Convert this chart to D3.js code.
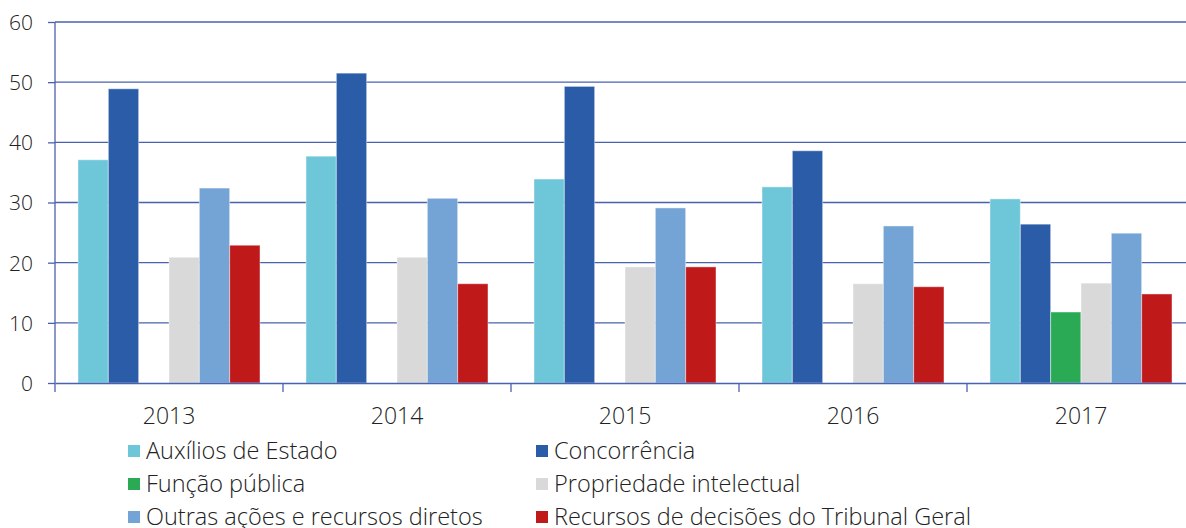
<!DOCTYPE html>
<html>
<head>
<meta charset="utf-8">
<script src="https://cdn.jsdelivr.net/npm/d3@7"></script>
<style>
  body { margin: 0; background: #fff; }
  text { font-family: "Open Sans", sans-serif; font-weight: 300; fill: #222; }
</style>
</head>
<body>
<div id="chart"></div>
<script>
// data
const years = ["2013", "2014", "2015", "2016", "2017"];
const seriesNames = ["Auxílios de Estado", "Concorrência", "Função pública",
    "Propriedade intelectual", "Outras ações e recursos diretos",
    "Recursos de decisões do Tribunal Geral"];
const seriesColors = ["#6ec6d9", "#2b5ca8", "#2aaa55", "#d9d9d9", "#74a3d6", "#c0191a"];
const auxilios = [37.1, 37.7, 33.9, 32.6, 30.6];
const concorrencia = [48.9, 51.5, 49.3, 38.6, 26.4];
const funcaoPublica = [null, null, null, null, 11.8];
const propriedade = [20.9, 20.9, 19.3, 16.5, 16.6];
const outras = [32.4, 30.7, 29.1, 26.1, 24.9];
const recursos = [22.9, 16.5, 19.3, 16.0, 14.8];
const yTicks = [0, 10, 20, 30, 40, 50, 60];

const seriesValues = [auxilios, concorrencia, funcaoPublica, propriedade, outras, recursos];

chart();

function chart() {
    let W = 1186, H = 528;
    let margin = { top: 22, left: 55 },
        plotW = 1140,
        plotH = 361;

    let svg = d3.select("#chart").append("svg")
        .attr("width", W)
        .attr("height", H);

    let g = svg.append("g")
        .attr("transform", "translate(" + margin.left + "," + margin.top + ")");

    let x0 = d3.scaleBand().domain(years).range([0, plotW]).paddingInner(0).paddingOuter(0);
    let x1 = d3.scaleBand().domain(d3.range(seriesNames.length))
        .range([23, x0.bandwidth() - 23]);
    let y = d3.scaleLinear().domain([0, 60]).range([plotH, 0]);

    // gridlines
    g.append("g")
        .selectAll("line")
        .data(yTicks.slice(1))
        .enter()
        .append("line")
        .attr("x1", 0)
        .attr("x2", plotW)
        .attr("y1", d => y(d))
        .attr("y2", d => y(d))
        .attr("stroke", "#4a62ad")
        .attr("stroke-width", 1.3);

    // bars
    let rows = [];
    years.forEach((yr, i) => {
        seriesValues.forEach((vals, s) => {
            if (vals[i] != null) rows.push({ year: yr, s: s, v: vals[i] });
        });
    });

    g.selectAll(".bar")
        .data(rows)
        .enter()
        .append("rect")
        .attr("class", "bar")
        .attr("x", d => x0(d.year) + x1(d.s))
        .attr("width", x1.bandwidth())
        .attr("y", d => y(d.v))
        .attr("height", d => plotH - y(d.v))
        .attr("fill", d => seriesColors[d.s])
        .attr("stroke", "rgba(255,255,255,0.45)")
        .attr("stroke-width", 1);

    // y axis
    let yAxis = g.append("g")
        .call(d3.axisLeft(y).tickValues(yTicks).tickSize(7).tickPadding(15));
    yAxis.select(".domain").attr("stroke", "#4a62ad").attr("stroke-width", 1.3)
        .attr("d", "M0,0V" + (plotH + 9));
    yAxis.selectAll(".tick line").attr("stroke", "#4a62ad").attr("stroke-width", 1.3);
    yAxis.selectAll("text")
        .style("font-size", "21px")
        .attr("fill", "#222")
        .attr("dy", "0.35em");

    // x axis
    let xAxis = g.append("g")
        .attr("transform", "translate(0," + plotH + ")")
        .call(d3.axisBottom(x0).tickSize(0).tickPadding(25));
    xAxis.select(".domain").attr("stroke", "#4a62ad").attr("stroke-width", 1.3);
    xAxis.selectAll("text")
        .style("font-size", "23px")
        .attr("fill", "#222");

    // category separator ticks
    g.append("g")
        .selectAll("line")
        .data(years.slice(1))
        .enter()
        .append("line")
        .attr("x1", d => x0(d))
        .attr("x2", d => x0(d))
        .attr("y1", plotH)
        .attr("y2", plotH + 9)
        .attr("stroke", "#4a62ad")
        .attr("stroke-width", 1.3);

    // legend
    let legend = svg.append("g");
    let legendOrder = [0, 1, 2, 3, 4, 5];
    let lg = legend.selectAll("g")
        .data(legendOrder)
        .enter()
        .append("g")
        .attr("transform", (d, i) =>
            "translate(" + (i % 2 == 0 ? 128 : 536) + "," + (451 + Math.floor(i / 2) * 33) + ")");
    lg.append("rect")
        .attr("x", 0)
        .attr("y", -6)
        .attr("width", 12)
        .attr("height", 12)
        .attr("fill", d => seriesColors[d]);
    lg.append("text")
        .attr("x", 18)
        .attr("dy", "0.35em")
        .style("font-size", "23.5px")
        .text(d => seriesNames[d]);
}
</script>
</body>
</html>
